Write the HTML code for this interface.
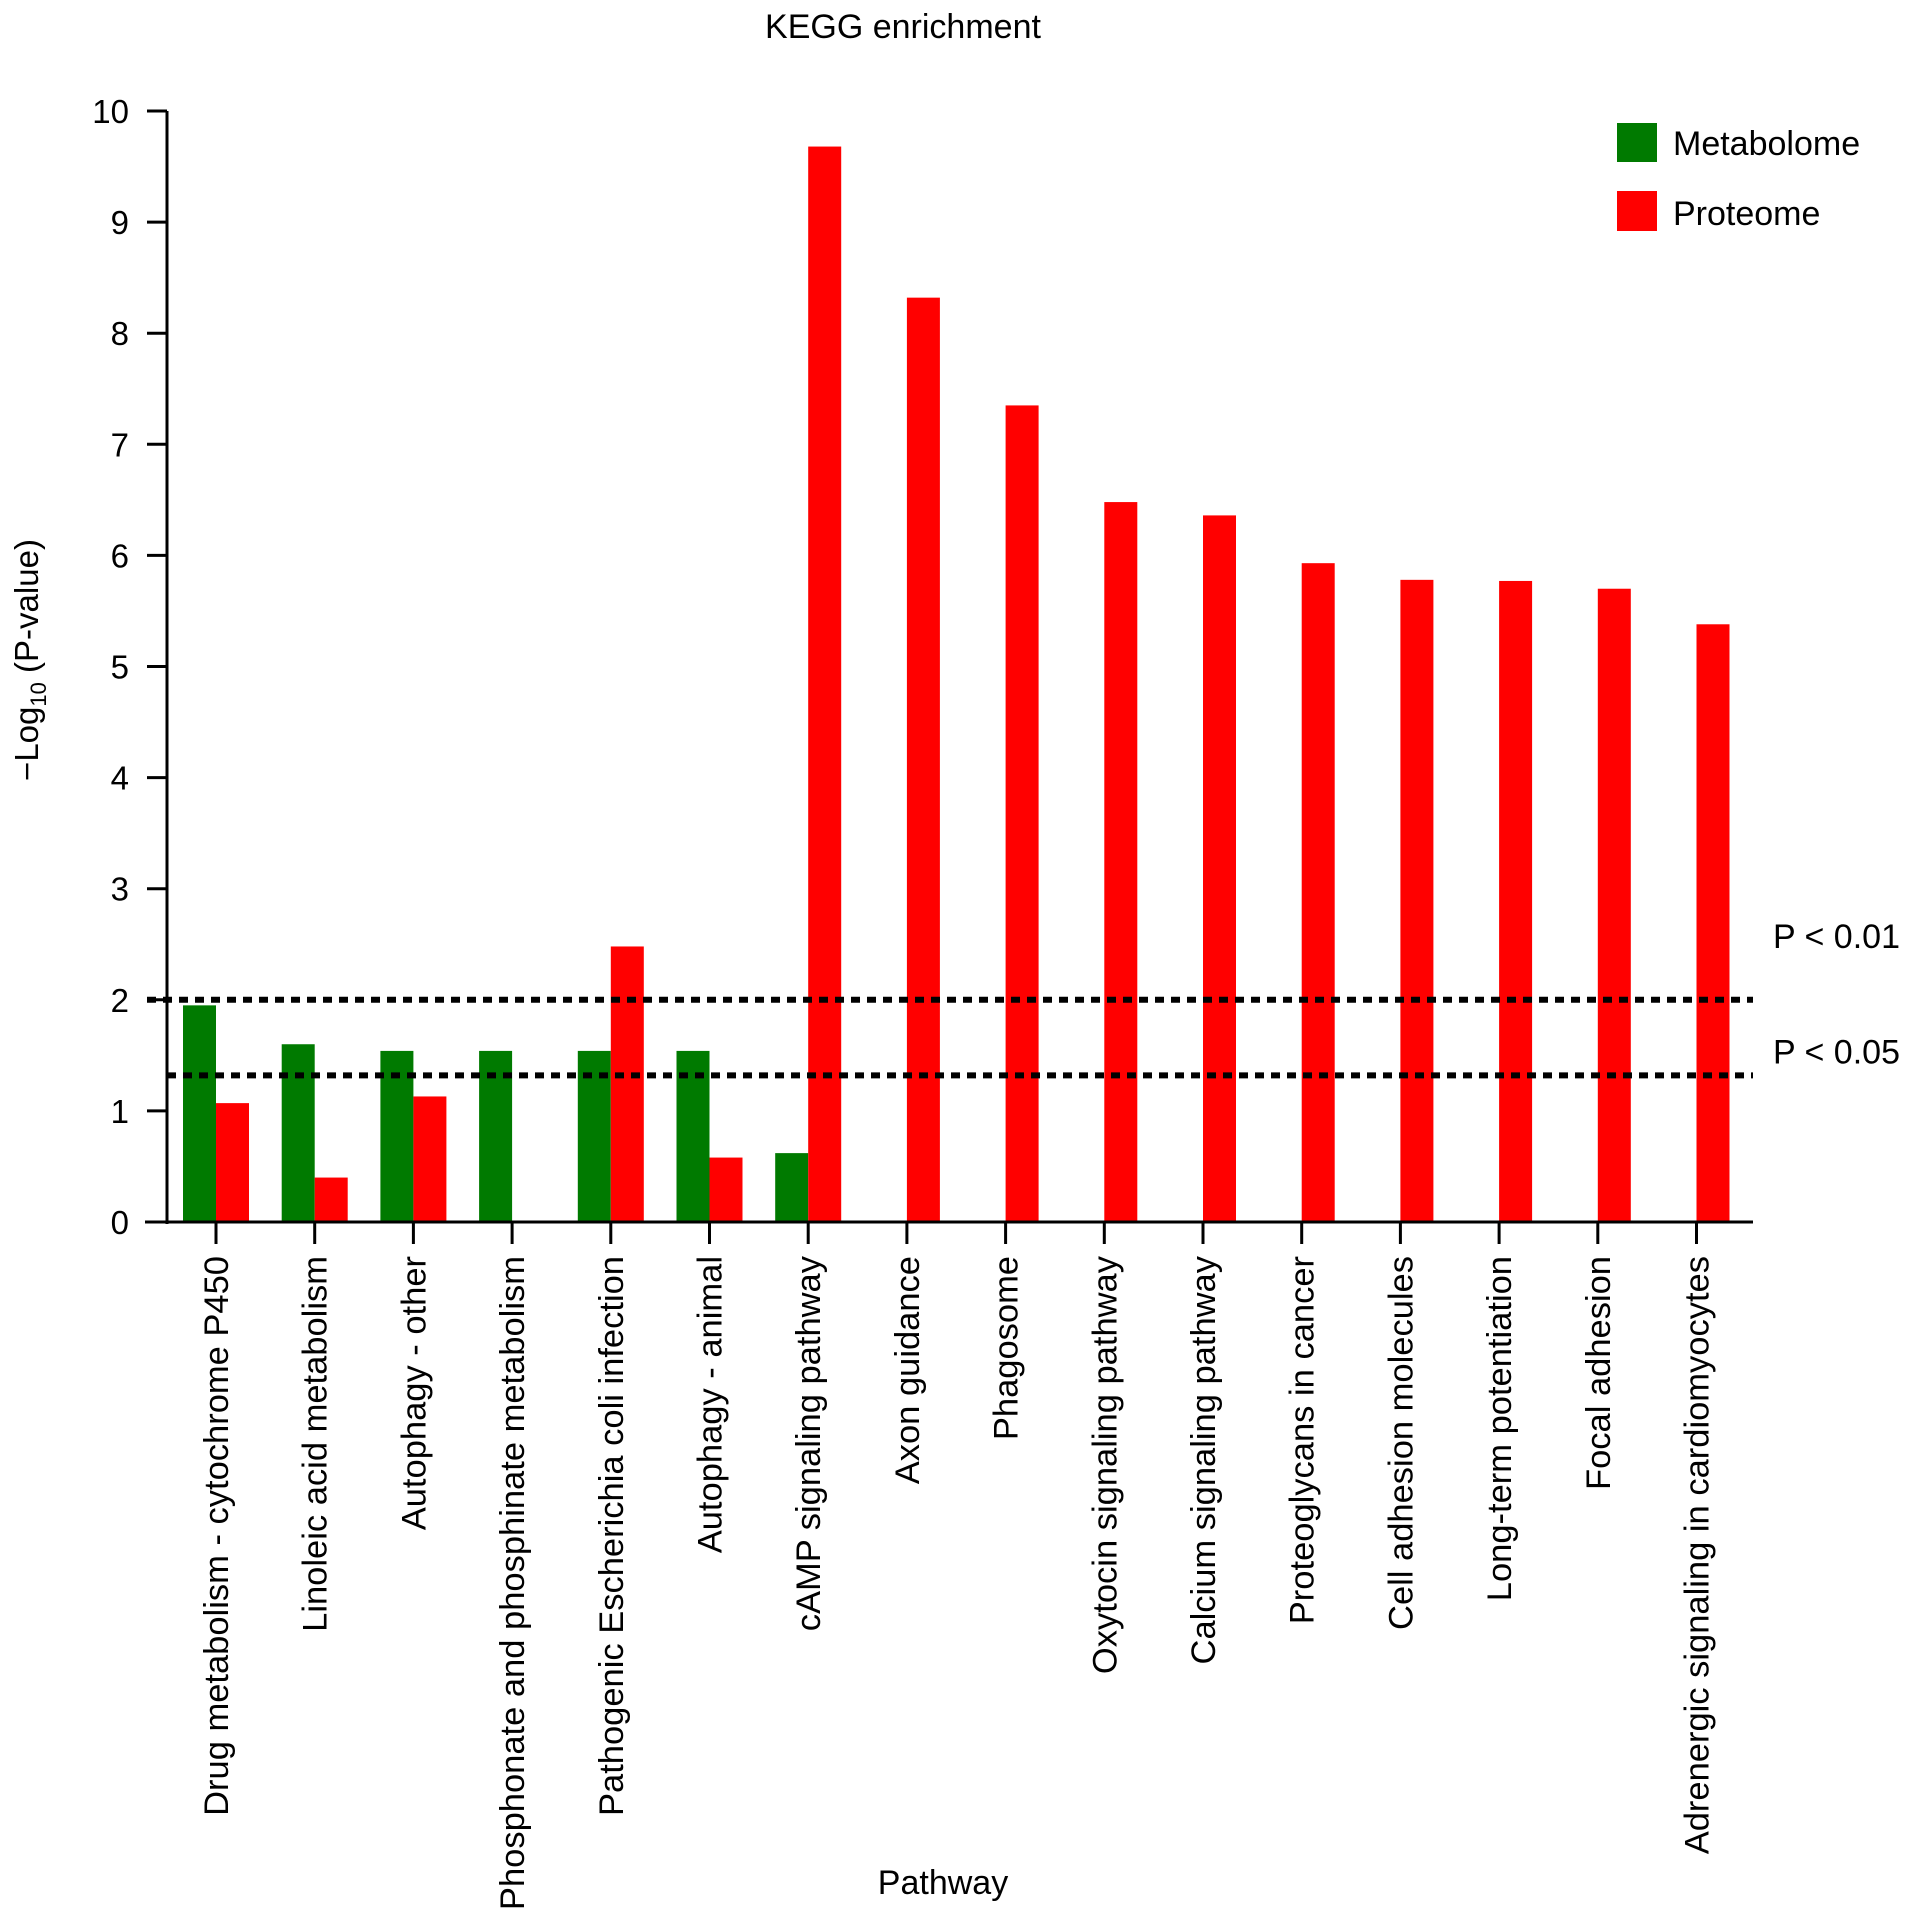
<!DOCTYPE html>
<html><head><meta charset="utf-8"><style>
body{margin:0;background:#fff}
svg text{font-family:"Liberation Sans",Arial,sans-serif;fill:#000}
</style></head><body>
<svg id="chart" width="1913" height="1913" viewBox="0 0 1913 1913" xmlns="http://www.w3.org/2000/svg">
<text x="903" y="38" font-size="34" text-anchor="middle">KEGG enrichment</text>
<text transform="translate(38,660) rotate(-90)" font-size="33" text-anchor="middle">−Log<tspan font-size="22" dy="8">10</tspan><tspan dy="-8"> (P-value)</tspan></text>
<text x="943" y="1894" font-size="34" text-anchor="middle">Pathway</text>
<g id="plot"></g>
<g>
<rect x="1617" y="123" width="40" height="39" fill="#007a00"/>
<text x="1673" y="155" font-size="34">Metabolome</text>
<rect x="1617" y="191" width="40" height="40" fill="#ff0000"/>
<text x="1673" y="225" font-size="34">Proteome</text>
</g>
</svg>
<script>
const categories=["Drug metabolism - cytochrome P450","Linoleic acid metabolism","Autophagy - other","Phosphonate and phosphinate metabolism","Pathogenic Escherichia coli infection","Autophagy - animal","cAMP signaling pathway","Axon guidance","Phagosome","Oxytocin signaling pathway","Calcium signaling pathway","Proteoglycans in cancer","Cell adhesion molecules","Long-term potentiation","Focal adhesion","Adrenergic signaling in cardiomyocytes"];
const metabolome=[1.95,1.6,1.54,1.54,1.54,1.54,0.62,0,0,0,0,0,0,0,0,0];
const proteome=[1.07,0.4,1.13,0,2.48,0.58,9.68,8.32,7.35,6.48,6.36,5.93,5.78,5.77,5.7,5.38];
const yTicks=[0,1,2,3,4,5,6,7,8,9,10];
const thresholds=[2,1.32];
const thresholdLabels=["P < 0.01","P < 0.05"];
const NS="http://www.w3.org/2000/svg";
const g=document.getElementById('plot');
const y0=1222,y10=111,axX=167,axEnd=1753,x0=216,step=98.7,bw=33;
const labelOffsets=[-52,-12];
function yS(v){return y0-(y0-y10)*v/10;}
function xS(i){return x0+i*step;}
function mk(t,a){const e=document.createElementNS(NS,t);for(const k in a)e.setAttribute(k,a[k]);g.appendChild(e);return e;}
metabolome.forEach((v,i)=>{if(v<=0)return;const r=mk('rect',{x:xS(i)-bw,y:yS(v),width:bw,height:y0-yS(v),fill:'#007a00'});

});
proteome.forEach((v,i)=>{if(v<=0)return;const r=mk('rect',{x:xS(i),y:yS(v),width:bw,height:y0-yS(v),fill:'#ff0000'});

});
thresholds.forEach((t,i)=>{const l=mk('line',{x1:axX-20+(i?20:0),x2:axEnd,y1:yS(t),y2:yS(t),stroke:'#000','stroke-width':6,'stroke-dasharray':'9 7'});


const tx=mk('text',{x:1773,y:yS(t)+labelOffsets[i],'font-size':34});tx.textContent=thresholdLabels[i];

});
const ya=mk('line',{x1:axX,x2:axX,y1:y10,y2:y0+2,stroke:'#000','stroke-width':3});


const xa=mk('line',{x1:axX-22,x2:axEnd,y1:y0,y2:y0,stroke:'#000','stroke-width':3});


yTicks.forEach(t=>{const l=mk('line',{x1:axX-20,x2:axX,y1:yS(t),y2:yS(t),stroke:'#000','stroke-width':3});


const tx=mk('text',{x:axX-38,y:yS(t)+12,'font-size':33,'text-anchor':'end'});tx.textContent=t;

});
categories.forEach((c,i)=>{const l=mk('line',{x1:xS(i),x2:xS(i),y1:y0,y2:y0+22,stroke:'#000','stroke-width':3});


const tx=mk('text',{transform:`translate(${xS(i)+12},1256) rotate(-90)`,'font-size':34.5,'text-anchor':'end'});tx.textContent=c;

});
</script>
</body></html>
